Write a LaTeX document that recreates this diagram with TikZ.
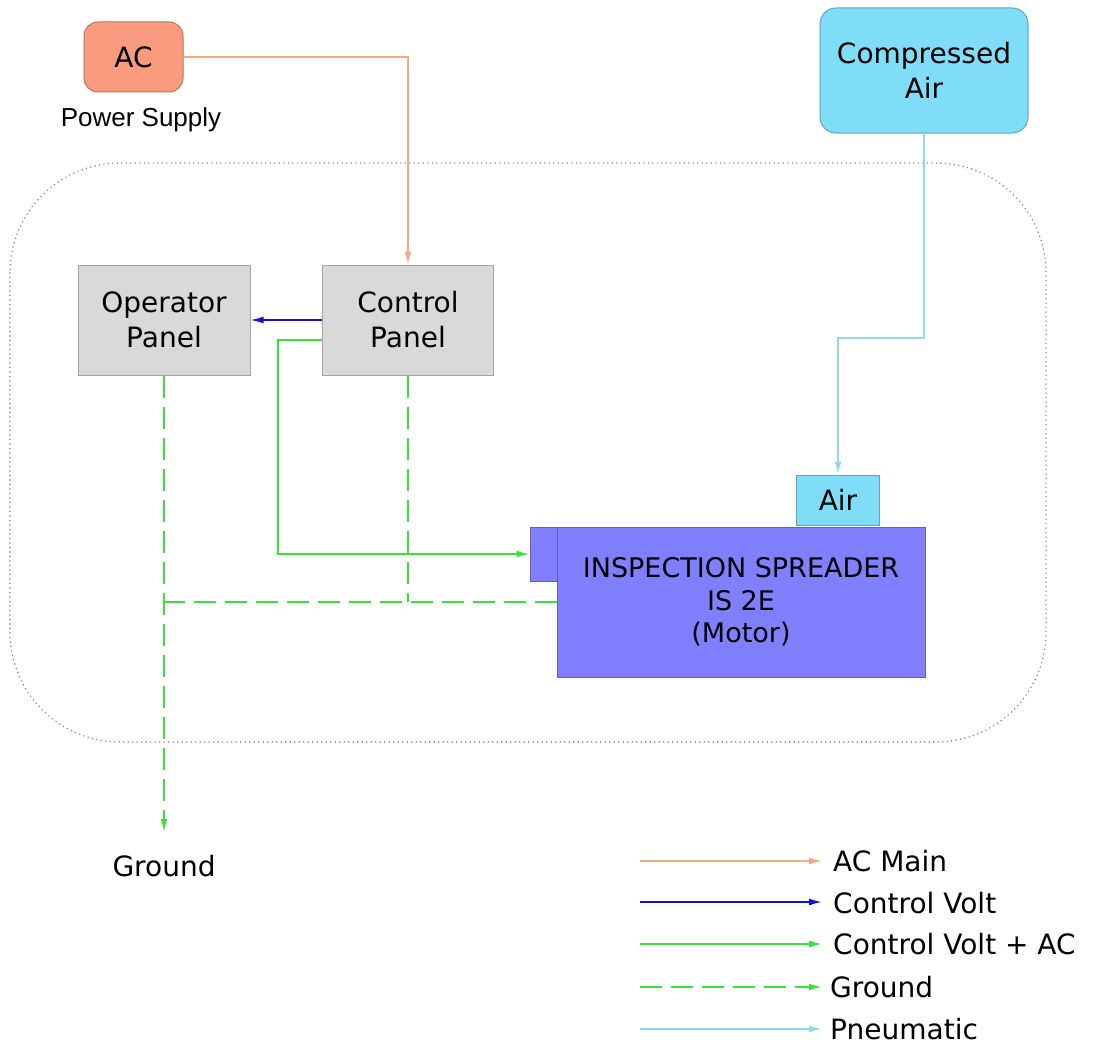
\documentclass[tikz,border=0pt]{standalone}
\usepackage{fontspec}
\setmainfont{DejaVu Sans}
\newfontfamily\arialfont{Liberation Sans}
\usetikzlibrary{arrows.meta}

\definecolor{acfill}{HTML}{FA9A7E}
\definecolor{airfill}{HTML}{80DDF8}
\definecolor{panelfill}{HTML}{D9D9D9}
\definecolor{motorfill}{HTML}{8080FF}
\definecolor{acline}{HTML}{F4A88C}
\definecolor{cvline}{HTML}{1414CC}
\definecolor{gline}{HTML}{3CE03C}
\definecolor{pline}{HTML}{92D9EE}

\begin{document}
\begin{tikzpicture}[x=1pt,y=-1pt,
		box/.style={draw=#1!75!black, fill=#1, line width=1pt, align=center, inner sep=0pt,
			font=\fontsize{28}{35}\selectfont},
		lbl/.style={inner sep=0pt, font=\fontsize{28}{35}\selectfont},
		tip/.style={-{Latex[length=13pt,width=7pt]}},
		acmain/.style={tip, draw=acline, line width=1.6pt},
		cvolt/.style={tip, draw=cvline, line width=1.6pt},
		cvac/.style={tip, draw=gline, line width=1.8pt},
		gnd/.style={tip, draw=gline, line width=1.8pt, dash pattern=on 22pt off 9pt},
		pneu/.style={tip, draw=pline, line width=1.6pt}]

		\useasboundingbox (0,0) rectangle (1102,1046);

		\draw[gray, line width=1.6pt, line cap=round, dash pattern=on 0pt off 4.5pt, rounded corners=110pt] (10,163) rectangle (1046,742);

		\node[box=acfill, rounded corners=14pt, minimum width=99pt, minimum height=70pt] (ac) at (133.5,57) {AC};
		\node[inner sep=0pt, font=\arialfont\fontsize{26}{30}\selectfont] (supply) at (141,120) {Power Supply};
		\node[box=airfill, rounded corners=16pt, minimum width=208pt, minimum height=125pt] (comp) at (924,70.5) {Compressed\\Air};

		\node[box=panelfill, minimum width=172pt, minimum height=110pt] (op) at (164,320) {Operator\\Panel};
		\node[box=panelfill, minimum width=171pt, minimum height=110pt] (ctrl) at (408,320) {Control\\Panel};

		\node[box=airfill, minimum width=83pt, minimum height=50pt] (air) at (838,500) {Air};
		\node[box=motorfill, minimum width=368pt, minimum height=150pt, font=\fontsize{27}{32.5}\selectfont] (motor) at (741,602) {INSPECTION SPREADER\\IS 2E\\(Motor)};
		\node[box=motorfill, minimum width=27pt, minimum height=54pt] (stub) at (543.5,554) {};

		\coordinate (gndtip) at (164,832);
		\node[lbl] (ground) at (164,866) {Ground};
		\coordinate (airbend) at (924,338);

		\draw[acmain] (ac.east) -| (ctrl.north);
		\draw[pneu] (comp.south) -- (airbend) -| (air.north);
		\draw[cvolt] (ctrl.west) -- (op.east);
		\draw[cvac] ([yshift=-20pt]ctrl.west) -- ++(-44,0) |- (stub.west);
		\draw[gnd] (op.south) -- (gndtip);
		\draw[gnd, -] (ctrl.south) -- (ctrl.south |- motor.west);
		\draw[gnd, -] (motor.west) -- (op.south |- motor.west);

		\coordinate (l1a) at (640,861);  \coordinate (l1b) at (822,861);
		\coordinate (l2a) at (640,902);  \coordinate (l2b) at (822,902);
		\coordinate (l3a) at (640,944);  \coordinate (l3b) at (822,944);
		\coordinate (l4a) at (640,987);  \coordinate (l4b) at (822,987);
		\coordinate (l5a) at (640,1029); \coordinate (l5b) at (822,1029);

		\draw[acmain] (l1a) -- (l1b);
		\draw[cvolt] (l2a) -- (l2b);
		\draw[cvac] (l3a) -- (l3b);
		\draw[gnd] (l4a) -- (l4b);
		\draw[pneu] (l5a) -- (l5b);

		\node[lbl, anchor=west] (k1) at (833,861) {AC Main};
		\node[lbl, anchor=west] (k2) at (833,903) {Control Volt};
		\node[lbl, anchor=west] (k3) at (833,944) {Control Volt + AC};
		\node[lbl, anchor=west] (k4) at (830,987) {Ground};
		\node[lbl, anchor=west] (k5) at (830,1029) {Pneumatic};

	\end{tikzpicture}
\end{document}
